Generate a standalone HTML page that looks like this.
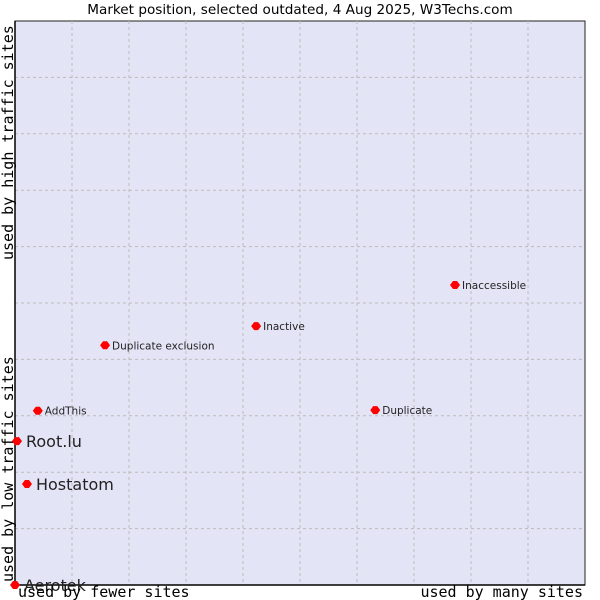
<!DOCTYPE html>
<html><head><meta charset="utf-8"><style>
body{margin:0;background:#fff;}
svg{display:block;font-family:"DejaVu Sans","Liberation Sans",sans-serif;}
</style></head><body>
<svg id="chart" width="600" height="600">
<text x="300" y="14" text-anchor="middle" font-size="13.6" fill="#000">Market position, selected outdated, 4 Aug 2025, W3Techs.com</text>
<rect x="15" y="21" width="570" height="564" fill="#e4e4f7" stroke="#222" stroke-width="1"/>
<g id="grid"></g>
<line x1="15" y1="21" x2="15" y2="586" stroke="#000" stroke-width="1.5"/>
<line x1="14" y1="585" x2="585" y2="585" stroke="#000" stroke-width="1.5"/>
<g id="points"></g>
<text x="18" y="597" font-family="DejaVu Sans Mono,monospace" font-size="15">used by fewer sites</text>
<text x="583" y="597" text-anchor="end" font-family="DejaVu Sans Mono,monospace" font-size="15">used by many sites</text>
<text transform="translate(13,582) rotate(-90)" font-family="DejaVu Sans Mono,monospace" font-size="15">used by low traffic sites</text>
<text transform="translate(13,260) rotate(-90)" font-family="DejaVu Sans Mono,monospace" font-size="15">used by high traffic sites</text>
</svg>
<script>
const names=["Aerotek","Root.lu","Hostatom","AddThis","Duplicate exclusion","Inactive","Inaccessible","Duplicate"];
const xValues=[0,0.35,2.1,4.0,15.8,42.3,77.2,63.2];
const yValues=[0,25.5,17.9,30.9,42.5,45.9,53.2,31.0];
const bigLabel=[true,true,true,false,false,false,false,false];
const X0=15,X1=585,Y0=585,Y1=21;
const sx=v=>X0+v/100*(X1-X0), sy=v=>Y0-v/100*(Y0-Y1);
const NS="http://www.w3.org/2000/svg";
const grid=document.getElementById('grid');
for(let i=1;i<10;i++){
 let l=document.createElementNS(NS,'line');
 
 
 l.setAttribute('x1',sx(i*10));l.setAttribute('x2',sx(i*10));l.setAttribute('y1',Y1);l.setAttribute('y2',Y0);
 l.setAttribute('stroke','#bbb');l.setAttribute('stroke-dasharray','3,3');grid.appendChild(l);
 let h=document.createElementNS(NS,'line');
 
 
 h.setAttribute('x1',X0);h.setAttribute('x2',X1);h.setAttribute('y1',sy(i*10));h.setAttribute('y2',sy(i*10));
 h.setAttribute('stroke','#bbb');h.setAttribute('stroke-dasharray','3,3');grid.appendChild(h);
}
const pts=document.getElementById('points');
names.forEach((n,i)=>{
 const x=sx(xValues[i]),y=sy(yValues[i]);
 let d=document.createElementNS(NS,'path');
 
 
 d.setAttribute('d',`M${x-5},${y} L${x-2},${y-4} L${x+2},${y-4} L${x+5},${y} L${x+2},${y+4} L${x-2},${y+4} Z`);
 d.setAttribute('fill','#f00');pts.appendChild(d);
 let t=document.createElementNS(NS,'text');
 
 
 const big=bigLabel[i];
 t.setAttribute('x',x+(big?9:7));t.setAttribute('y',y+(big?6:4));
 t.setAttribute('font-size',big?16:10.5);t.setAttribute('fill','#222');
 t.textContent=n;pts.appendChild(t);
});
</script>
</body></html>
